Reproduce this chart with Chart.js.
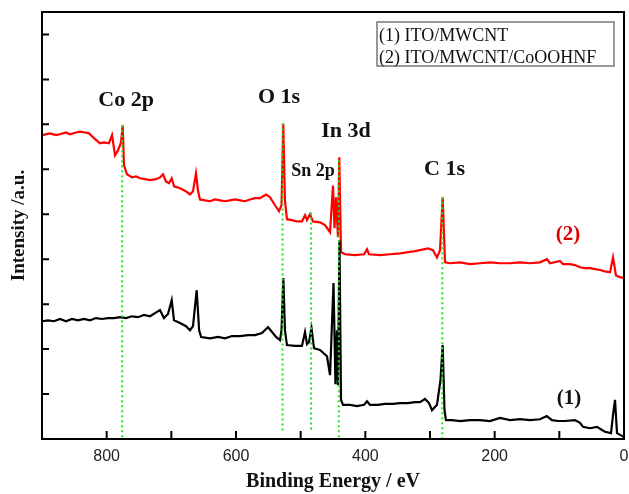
<!DOCTYPE html>
<html>
<head>
<meta charset="utf-8">
<script src="https://cdn.jsdelivr.net/npm/chart.js@4"></script>
<style>
  html, body { margin: 0; padding: 0; background: #fff; }
  #wrap { width: 629px; height: 494px; }
</style>
</head>
<body>
<div id="wrap"><canvas id="xps"></canvas></div>
<script>
// Binding energy (eV) and intensity (a.u.)
const energyRed = [900, 887.6, 878.4, 872.2, 862.9, 856.7, 847.4, 841.2, 833.5, 827.3, 818, 810.2, 804, 796.4, 791.7, 787.1, 782.5, 777.8, 775.2, 773.2,
  768.6, 760.8, 754.6, 748.4, 740.7, 733, 723.7, 717.5, 712.9, 708.3, 703.6, 699.4, 695.8, 686.6, 677.3, 671.1, 666.5, 661.9, 658.8, 655.7,
  648, 640.2, 632.5, 624.8, 617, 609.3, 601.5, 593.8, 586, 578.4, 570.6, 562.9, 553.6, 547.4, 539.7, 533.5, 529.6, 526.9, 524.3, 521.2,
  513.4, 505.7, 498, 493.3, 490.2, 485.6, 481, 470.1, 462.4, 454.6, 450, 447.7, 445.4, 442.3, 440.3, 437.6, 431.4, 416, 402, 397.4,
  394.3, 377.3, 361.9, 346.4, 323.2, 303.1, 295.4, 289.2, 284.5, 280.4, 276.8, 269.1, 253.6, 238.2, 222.7, 207.2, 191.8, 176.3, 160.8, 145.4,
  129.9, 119.1, 114.4, 99, 94.3, 83.5, 75.8, 68, 60.3, 52.6, 44.8, 37.1, 29.4, 21.6, 17, 12.4, 6.2, 0];
const intensityRed = [6.76, 6.80, 6.76, 6.78, 6.82, 6.78, 6.82, 6.84, 6.82, 6.80, 6.67, 6.58, 6.60, 6.58, 6.76, 6.31, 6.42, 6.60, 6.98, 6.09,
  5.89, 5.82, 5.84, 5.80, 5.78, 5.76, 5.78, 5.82, 5.89, 5.73, 5.69, 5.80, 5.62, 5.58, 5.51, 5.44, 5.51, 5.91, 5.53, 5.33,
  5.31, 5.29, 5.33, 5.31, 5.29, 5.31, 5.33, 5.31, 5.29, 5.33, 5.36, 5.36, 5.44, 5.38, 5.20, 5.07, 5.20, 7.02, 5.31, 4.89,
  4.87, 4.84, 4.84, 4.98, 4.87, 5.00, 4.84, 4.82, 4.76, 4.60, 5.64, 4.69, 5.38, 4.49, 6.27, 4.16, 4.11, 4.09, 4.11, 4.22,
  4.11, 4.09, 4.11, 4.13, 4.18, 4.24, 4.20, 4.04, 4.20, 5.38, 3.93, 3.91, 3.93, 3.89, 3.91, 3.93, 3.91, 3.91, 3.93, 3.91,
  3.93, 4.00, 3.91, 3.96, 3.89, 3.89, 3.87, 3.82, 3.80, 3.80, 3.78, 3.76, 3.73, 3.71, 4.04, 3.64, 3.60, 3.58];

const energyBlack = [900, 890.7, 881.4, 872.2, 862.9, 853.6, 844.3, 835, 825.8, 816.5, 807.2, 797.9, 788.7, 779.4, 770.1, 760.8, 751.6, 742.3, 733, 725.3,
  717.6, 711.4, 705.2, 699.4, 695.9, 686.6, 677.3, 671.1, 666.5, 660.8, 657, 653.9, 640.2, 627.8, 617, 606.2, 593.8, 581.4, 570.6, 559.8,
  550.5, 544.3, 538.1, 531.9, 529.6, 526.8, 524.3, 521.2, 508.8, 498, 493.3, 490.2, 487.1, 483.3, 479.4, 470.1, 459.3, 454.6, 449.2, 446.2,
  443.9, 442.3, 440, 437.6, 434.5, 423.7, 412.9, 402, 397.4, 392.8, 380.4, 369.6, 357.2, 346.4, 334, 323.2, 315.5, 307.7, 301.5, 296.9,
  289.2, 283.8, 280.4, 277.6, 275.3, 266, 253.6, 238.2, 222.7, 207.2, 191.8, 176.3, 160.8, 145.4, 129.9, 119.5, 111.3, 102.1, 91.2, 75.8,
  68, 63.4, 52.6, 41.8, 34, 29.4, 20.1, 17, 13.9, 10.8, 3.1, 0];
const intensityBlack = [2.62, 2.64, 2.62, 2.67, 2.62, 2.67, 2.64, 2.67, 2.64, 2.69, 2.67, 2.69, 2.69, 2.71, 2.69, 2.73, 2.71, 2.76, 2.73, 2.80,
  2.87, 2.69, 2.78, 3.09, 2.64, 2.58, 2.51, 2.42, 2.51, 3.31, 2.42, 2.27, 2.24, 2.27, 2.24, 2.29, 2.29, 2.31, 2.31, 2.36,
  2.49, 2.38, 2.27, 2.20, 2.42, 3.58, 2.42, 2.09, 2.07, 2.07, 2.38, 2.11, 2.16, 2.47, 2.02, 1.98, 1.84, 1.42, 3.47, 1.22,
  2.42, 1.20, 4.42, 0.87, 0.76, 0.76, 0.73, 0.76, 0.84, 0.76, 0.76, 0.78, 0.78, 0.80, 0.80, 0.82, 0.82, 0.89, 0.80, 0.64,
  0.76, 1.31, 2.09, 0.64, 0.42, 0.42, 0.40, 0.42, 0.42, 0.40, 0.47, 0.42, 0.44, 0.42, 0.44, 0.51, 0.42, 0.40, 0.40, 0.42,
  0.36, 0.27, 0.24, 0.27, 0.20, 0.16, 0.13, 0.53, 0.87, 0.13, 0.07, 0.04];

// Peak guide lines: energy, top and bottom intensity
const peakNames = ['Co 2p', 'O 1s', 'Sn 2p', 'In 3d', 'C 1s'];
const peakEnergy = [776, 528, 484, 441, 281];
const peakTop = [6.98, 7.02, 5.04, 6.2, 5.38];
const peakBottom = [0, 0.15, 0.15, 0, 0];

const seriesNames = ['(1) ITO/MWCNT', '(2) ITO/MWCNT/CoOOHNF'];
const xTicks = [100, 200, 300, 400, 500, 600, 700, 800];
const yTicks = [1, 2, 3, 4, 5, 6, 7, 8, 9];

function toPoints(xs, ys) {
    return xs.map((x, i) => ({ x: x, y: ys[i] }));
}

const guideSets = peakEnergy.map((e, i) => ({
    label: peakNames[i],
    data: [{ x: e, y: peakTop[i] }, { x: e, y: peakBottom[i] }],
    borderColor: '#22e622',
    borderWidth: 2,
    borderDash: [2, 3],
    pointRadius: 0
}));

// Frame, inward tick marks, labels and the legend box
const decorPlugin = {
    id: 'decor',
    afterDraw(chart) {
        const ctx = chart.ctx;
        const a = chart.chartArea;
        const xs = chart.scales.x;
        const ys = chart.scales.y;
        ctx.save();
        ctx.strokeStyle = '#000';
        ctx.lineWidth = 2;
        ctx.strokeRect(a.left, a.top, a.right - a.left, a.bottom - a.top);

        ctx.beginPath();
        xTicks.forEach(v => {
            const px = xs.getPixelForValue(v);
            ctx.moveTo(px, a.bottom);
            ctx.lineTo(px, a.bottom - 8);
        });
        yTicks.forEach(v => {
            const py = ys.getPixelForValue(v);
            ctx.moveTo(a.left, py);
            ctx.lineTo(a.left + 7, py);
        });
        ctx.stroke();

        // peak labels
        ctx.textAlign = 'center';
        ctx.textBaseline = 'alphabetic';
        const labels = [
            { t: 'Co 2p', e: 770, v: 7.4, size: 22, color: '#111' },
            { t: 'O 1s', e: 533.5, v: 7.47, size: 22, color: '#111' },
            { t: 'In 3d', e: 430, v: 6.71, size: 22, color: '#111' },
            { t: 'Sn 2p', e: 481, v: 5.85, size: 18, color: '#111' },
            { t: 'C 1s', e: 277.6, v: 5.87, size: 22, color: '#111' },
            { t: '(2)', e: 86.6, v: 4.42, size: 21, color: '#e00000' },
            { t: '(1)', e: 85, v: 0.78, size: 21, color: '#111' }
        ];
        labels.forEach(l => {
            ctx.font = 'bold ' + l.size + 'px "Liberation Serif", serif';
            ctx.fillStyle = l.color;
            ctx.fillText(l.t, xs.getPixelForValue(l.e), ys.getPixelForValue(l.v));
        });

        // legend box
        ctx.strokeStyle = '#777';
        ctx.lineWidth = 1.5;
        ctx.strokeRect(377, 22, 237, 44);
        ctx.fillStyle = '#111';
        ctx.textAlign = 'left';
        ctx.font = '18px "Liberation Serif", serif';
        ctx.fillText(seriesNames[0], 379, 41);
        ctx.fillText(seriesNames[1], 379, 63);
        ctx.restore();
    }
};

const chart = new Chart(document.getElementById('xps'), {
    type: 'line',
    data: {
        datasets: guideSets.concat([
            {
                label: seriesNames[0],
                data: toPoints(energyBlack, intensityBlack),
                borderColor: '#000',
                borderWidth: 2.2,
                pointRadius: 0
            },
            {
                label: seriesNames[1],
                data: toPoints(energyRed, intensityRed),
                borderColor: '#ff0000',
                borderWidth: 2.2,
                pointRadius: 0
            }
        ])
    },
    options: {
        responsive: true,
        maintainAspectRatio: false,
        animation: false,
        layout: { padding: { left: 0, right: 5, top: 12, bottom: 0 } },
        plugins: {
            legend: { display: false },
            tooltip: { enabled: false }
        },
        scales: {
            x: {
                type: 'linear',
                reverse: true,
                min: 0,
                max: 900,
                grid: { display: false, drawTicks: false },
                border: { display: false },
                afterFit: s => {
                    s.height = 55;
                    s.paddingLeft = 0;
                    s.paddingRight = 0;
                },
                ticks: {
                    stepSize: 100,
                    padding: 8,
                    maxRotation: 0,
                    autoSkip: false,
                    color: '#222',
                    font: { family: '"Liberation Sans", Arial, sans-serif', size: 16 },
                    callback: v => (v % 200 === 0 ? v : '')
                },
                title: {
                    display: true,
                    text: 'Binding Energy / eV',
                    color: '#111',
                    padding: { top: 0, bottom: 0 },
                    font: { family: '"Liberation Serif", serif', size: 20, weight: 'bold' }
                }
            },
            y: {
                min: 0,
                max: 9.5,
                grid: { display: false, drawTicks: false },
                border: { display: false },
                afterFit: s => { s.width = 42; },
                ticks: { display: false, stepSize: 1 },
                title: {
                    display: true,
                    text: 'Intensity /a.u.',
                    color: '#111',
                    padding: { top: 8, bottom: 0 },
                    font: { family: '"Liberation Serif", serif', size: 19, weight: 'bold' }
                }
            }
        }
    },
    plugins: [decorPlugin]
});
</script>
</body>
</html>
